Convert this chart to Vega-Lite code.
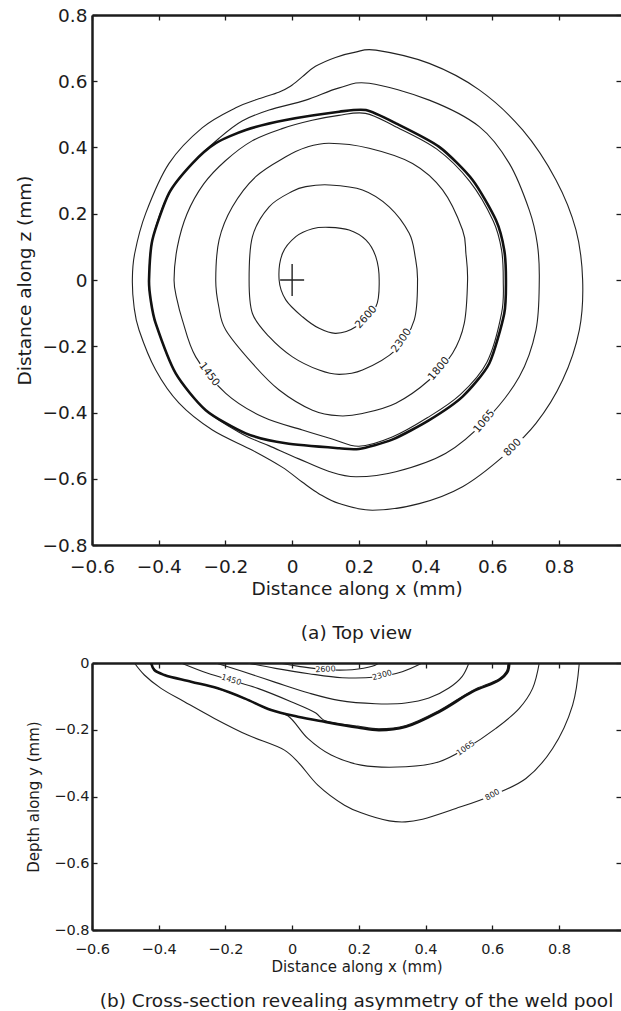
{
  "$schema": "https://vega.github.io/schema/vega-lite/v6.json",
  "padding": {"left": 15, "top": 6, "right": 0, "bottom": 0},
  "background": "white",
  "config": {
    "view": {"stroke": null},
    "font": "DejaVu Sans",
    "axis": {"grid": false, "domainColor": "#1c1c1c", "domainWidth": 2.5, "tickColor": "#1c1c1c", "tickWidth": 1.3, "tickSize": -5, "labelFont": "DejaVu Sans", "titleFont": "DejaVu Sans", "labelColor": "#1c1c1c", "titleColor": "#1c1c1c", "titleFontWeight": "normal", "labelFlush": false, "labelOverlap": false},
    "title": {"font": "DejaVu Sans", "fontWeight": "normal", "color": "#1c1c1c"}
  },
  "datasets": {
    "topIso": [
      {"iso":"800","i":0,"x":0.871,"z":0},{"iso":"800","i":1,"x":0.851,"z":0.151},{"iso":"800","i":2,"x":0.791,"z":0.302},{"iso":"800","i":3,"x":0.691,"z":0.453},{"iso":"800","i":4,"x":0.561,"z":0.574},{"iso":"800","i":5,"x":0.411,"z":0.654},{"iso":"800","i":6,"x":0.251,"z":0.694},{"iso":"800","i":7,"x":0.19,"z":0.688},{"iso":"800","i":8,"x":0.13,"z":0.672},{"iso":"800","i":9,"x":0.07,"z":0.645},{"iso":"800","i":10,"x":0.03,"z":0.613},{"iso":"800","i":11,"x":-0.005,"z":0.585},{"iso":"800","i":12,"x":-0.04,"z":0.567},{"iso":"800","i":13,"x":-0.1,"z":0.547},{"iso":"800","i":14,"x":-0.169,"z":0.52},{"iso":"800","i":15,"x":-0.269,"z":0.46},{"iso":"800","i":16,"x":-0.369,"z":0.352},{"iso":"800","i":17,"x":-0.439,"z":0.201},{"iso":"800","i":18,"x":-0.472,"z":0.08},{"iso":"800","i":19,"x":-0.479,"z":0},{"iso":"800","i":20,"x":-0.474,"z":-0.08},{"iso":"800","i":21,"x":-0.459,"z":-0.151},{"iso":"800","i":22,"x":-0.409,"z":-0.272},{"iso":"800","i":23,"x":-0.339,"z":-0.372},{"iso":"800","i":24,"x":-0.239,"z":-0.453},{"iso":"800","i":25,"x":-0.119,"z":-0.514},{"iso":"800","i":26,"x":-0.03,"z":-0.565},{"iso":"800","i":27,"x":0.03,"z":-0.61},{"iso":"800","i":28,"x":0.08,"z":-0.645},{"iso":"800","i":29,"x":0.141,"z":-0.675},{"iso":"800","i":30,"x":0.241,"z":-0.695},{"iso":"800","i":31,"x":0.381,"z":-0.675},{"iso":"800","i":32,"x":0.511,"z":-0.624},{"iso":"800","i":33,"x":0.631,"z":-0.534},{"iso":"800","i":34,"x":0.731,"z":-0.433},{"iso":"800","i":35,"x":0.811,"z":-0.302},{"iso":"800","i":36,"x":0.861,"z":-0.151},
      {"iso":"1065","i":0,"x":0.741,"z":0},{"iso":"1065","i":1,"x":0.735,"z":0.11},{"iso":"1065","i":2,"x":0.711,"z":0.211},{"iso":"1065","i":3,"x":0.651,"z":0.352},{"iso":"1065","i":4,"x":0.561,"z":0.463},{"iso":"1065","i":5,"x":0.411,"z":0.543},{"iso":"1065","i":6,"x":0.231,"z":0.594},{"iso":"1065","i":7,"x":0.141,"z":0.58},{"iso":"1065","i":8,"x":0.041,"z":0.543},{"iso":"1065","i":9,"x":-0.069,"z":0.513},{"iso":"1065","i":10,"x":-0.15,"z":0.48},{"iso":"1065","i":11,"x":-0.219,"z":0.428},{"iso":"1065","i":12,"x":-0.299,"z":0.352},{"iso":"1065","i":13,"x":-0.369,"z":0.262},{"iso":"1065","i":14,"x":-0.419,"z":0.121},{"iso":"1065","i":15,"x":-0.429,"z":0},{"iso":"1065","i":16,"x":-0.424,"z":-0.06},{"iso":"1065","i":17,"x":-0.409,"z":-0.131},{"iso":"1065","i":18,"x":-0.349,"z":-0.282},{"iso":"1065","i":19,"x":-0.259,"z":-0.393},{"iso":"1065","i":20,"x":-0.15,"z":-0.465},{"iso":"1065","i":21,"x":-0.07,"z":-0.5},{"iso":"1065","i":22,"x":0.02,"z":-0.54},{"iso":"1065","i":23,"x":0.111,"z":-0.578},{"iso":"1065","i":24,"x":0.191,"z":-0.594},{"iso":"1065","i":25,"x":0.311,"z":-0.579},{"iso":"1065","i":26,"x":0.461,"z":-0.523},{"iso":"1065","i":27,"x":0.581,"z":-0.423},{"iso":"1065","i":28,"x":0.681,"z":-0.292},{"iso":"1065","i":29,"x":0.731,"z":-0.151},
      {"iso":"1450","i":0,"x":0.633,"z":0},{"iso":"1450","i":1,"x":0.628,"z":0.09},{"iso":"1450","i":2,"x":0.603,"z":0.178},{"iso":"1450","i":3,"x":0.533,"z":0.297},{"iso":"1450","i":4,"x":0.434,"z":0.395},{"iso":"1450","i":5,"x":0.306,"z":0.465},{"iso":"1450","i":6,"x":0.22,"z":0.503},{"iso":"1450","i":7,"x":0.14,"z":0.497},{"iso":"1450","i":8,"x":0.06,"z":0.482},{"iso":"1450","i":9,"x":-0.03,"z":0.457},{"iso":"1450","i":10,"x":-0.12,"z":0.42},{"iso":"1450","i":11,"x":-0.2,"z":0.36},{"iso":"1450","i":12,"x":-0.265,"z":0.29},{"iso":"1450","i":13,"x":-0.315,"z":0.2},{"iso":"1450","i":14,"x":-0.344,"z":0.1},{"iso":"1450","i":15,"x":-0.354,"z":0},{"iso":"1450","i":16,"x":-0.345,"z":-0.06},{"iso":"1450","i":17,"x":-0.329,"z":-0.121},{"iso":"1450","i":18,"x":-0.289,"z":-0.232},{"iso":"1450","i":19,"x":-0.199,"z":-0.342},{"iso":"1450","i":20,"x":-0.089,"z":-0.413},{"iso":"1450","i":21,"x":0.031,"z":-0.453},{"iso":"1450","i":22,"x":0.12,"z":-0.48},{"iso":"1450","i":23,"x":0.2,"z":-0.502},{"iso":"1450","i":24,"x":0.3,"z":-0.474},{"iso":"1450","i":25,"x":0.405,"z":-0.416},{"iso":"1450","i":26,"x":0.504,"z":-0.346},{"iso":"1450","i":27,"x":0.584,"z":-0.248},{"iso":"1450","i":28,"x":0.628,"z":-0.1},
      {"iso":"1800","i":0,"x":0.526,"z":0},{"iso":"1800","i":1,"x":0.521,"z":0.08},{"iso":"1800","i":2,"x":0.511,"z":0.151},{"iso":"1800","i":3,"x":0.451,"z":0.272},{"iso":"1800","i":4,"x":0.361,"z":0.352},{"iso":"1800","i":5,"x":0.231,"z":0.398},{"iso":"1800","i":6,"x":0.111,"z":0.413},{"iso":"1800","i":7,"x":0.041,"z":0.4},{"iso":"1800","i":8,"x":-0.019,"z":0.372},{"iso":"1800","i":9,"x":-0.109,"z":0.312},{"iso":"1800","i":10,"x":-0.179,"z":0.221},{"iso":"1800","i":11,"x":-0.219,"z":0.121},{"iso":"1800","i":12,"x":-0.229,"z":0},{"iso":"1800","i":13,"x":-0.22,"z":-0.08},{"iso":"1800","i":14,"x":-0.199,"z":-0.151},{"iso":"1800","i":15,"x":-0.119,"z":-0.252},{"iso":"1800","i":16,"x":-0.039,"z":-0.332},{"iso":"1800","i":17,"x":0.061,"z":-0.393},{"iso":"1800","i":18,"x":0.141,"z":-0.41},{"iso":"1800","i":19,"x":0.211,"z":-0.403},{"iso":"1800","i":20,"x":0.311,"z":-0.372},{"iso":"1800","i":21,"x":0.411,"z":-0.302},{"iso":"1800","i":22,"x":0.481,"z":-0.221},{"iso":"1800","i":23,"x":0.516,"z":-0.131},
      {"iso":"2300","i":0,"x":0.376,"z":0},{"iso":"2300","i":1,"x":0.369,"z":0.07},{"iso":"2300","i":2,"x":0.351,"z":0.141},{"iso":"2300","i":3,"x":0.291,"z":0.221},{"iso":"2300","i":4,"x":0.211,"z":0.272},{"iso":"2300","i":5,"x":0.111,"z":0.287},{"iso":"2300","i":6,"x":0.041,"z":0.282},{"iso":"2300","i":7,"x":0.001,"z":0.268},{"iso":"2300","i":8,"x":-0.069,"z":0.221},{"iso":"2300","i":9,"x":-0.119,"z":0.131},{"iso":"2300","i":10,"x":-0.129,"z":0},{"iso":"2300","i":11,"x":-0.119,"z":-0.101},{"iso":"2300","i":12,"x":-0.069,"z":-0.171},{"iso":"2300","i":13,"x":0.001,"z":-0.232},{"iso":"2300","i":14,"x":0.081,"z":-0.272},{"iso":"2300","i":15,"x":0.141,"z":-0.285},{"iso":"2300","i":16,"x":0.211,"z":-0.272},{"iso":"2300","i":17,"x":0.311,"z":-0.211},{"iso":"2300","i":18,"x":0.366,"z":-0.121},
      {"iso":"2600","i":0,"x":0.261,"z":0},{"iso":"2600","i":1,"x":0.251,"z":0.07},{"iso":"2600","i":2,"x":0.221,"z":0.121},{"iso":"2600","i":3,"x":0.171,"z":0.151},{"iso":"2600","i":4,"x":0.111,"z":0.159},{"iso":"2600","i":5,"x":0.061,"z":0.155},{"iso":"2600","i":6,"x":0.011,"z":0.131},{"iso":"2600","i":7,"x":-0.029,"z":0.08},{"iso":"2600","i":8,"x":-0.039,"z":0},{"iso":"2600","i":9,"x":-0.019,"z":-0.06},{"iso":"2600","i":10,"x":0.031,"z":-0.111},{"iso":"2600","i":11,"x":0.081,"z":-0.146},{"iso":"2600","i":12,"x":0.131,"z":-0.161},{"iso":"2600","i":13,"x":0.191,"z":-0.141},{"iso":"2600","i":14,"x":0.251,"z":-0.081},
      {"iso":"pool boundary","i":0,"x":0.641,"z":0},{"iso":"pool boundary","i":1,"x":0.636,"z":0.09},{"iso":"pool boundary","i":2,"x":0.611,"z":0.181},{"iso":"pool boundary","i":3,"x":0.541,"z":0.302},{"iso":"pool boundary","i":4,"x":0.441,"z":0.402},{"iso":"pool boundary","i":5,"x":0.311,"z":0.473},{"iso":"pool boundary","i":6,"x":0.221,"z":0.513},{"iso":"pool boundary","i":7,"x":0.141,"z":0.508},{"iso":"pool boundary","i":8,"x":-0.019,"z":0.483},{"iso":"pool boundary","i":9,"x":-0.139,"z":0.453},{"iso":"pool boundary","i":10,"x":-0.229,"z":0.413},{"iso":"pool boundary","i":11,"x":-0.299,"z":0.352},{"iso":"pool boundary","i":12,"x":-0.369,"z":0.262},{"iso":"pool boundary","i":13,"x":-0.419,"z":0.121},{"iso":"pool boundary","i":14,"x":-0.429,"z":0},{"iso":"pool boundary","i":15,"x":-0.424,"z":-0.06},{"iso":"pool boundary","i":16,"x":-0.409,"z":-0.131},{"iso":"pool boundary","i":17,"x":-0.349,"z":-0.282},{"iso":"pool boundary","i":18,"x":-0.259,"z":-0.393},{"iso":"pool boundary","i":19,"x":-0.139,"z":-0.463},{"iso":"pool boundary","i":20,"x":-0.019,"z":-0.493},{"iso":"pool boundary","i":21,"x":0.141,"z":-0.508},{"iso":"pool boundary","i":22,"x":0.2,"z":-0.51},{"iso":"pool boundary","i":23,"x":0.3,"z":-0.482},{"iso":"pool boundary","i":24,"x":0.411,"z":-0.423},{"iso":"pool boundary","i":25,"x":0.511,"z":-0.352},{"iso":"pool boundary","i":26,"x":0.591,"z":-0.252},{"iso":"pool boundary","i":27,"x":0.636,"z":-0.101}
    ],
    "topLabels": [
      {"label":"2600","x":0.222,"z":-0.112,"dir":48},
      {"label":"2300","x":0.328,"z":-0.183,"dir":55},
      {"label":"1800","x":0.44,"z":-0.268,"dir":50},
      {"label":"1065","x":0.576,"z":-0.427,"dir":50},
      {"label":"800","x":0.661,"z":-0.506,"dir":45},
      {"label":"1450","x":-0.249,"z":-0.285,"dir":-53}
    ],
    "beam": [{"x":0,"z":0}],
    "sideIso": [
      {"iso":"800","i":0,"x":-0.473,"y":0},{"iso":"800","i":1,"x":-0.443,"y":-0.036},{"iso":"800","i":2,"x":-0.393,"y":-0.076},{"iso":"800","i":3,"x":-0.323,"y":-0.116},{"iso":"800","i":4,"x":-0.233,"y":-0.166},{"iso":"800","i":5,"x":-0.133,"y":-0.216},{"iso":"800","i":6,"x":-0.023,"y":-0.261},{"iso":"800","i":7,"x":0.017,"y":-0.296},{"iso":"800","i":8,"x":0.077,"y":-0.366},{"iso":"800","i":9,"x":0.157,"y":-0.426},{"iso":"800","i":10,"x":0.207,"y":-0.449},{"iso":"800","i":11,"x":0.291,"y":-0.473},{"iso":"800","i":12,"x":0.34,"y":-0.476},{"iso":"800","i":13,"x":0.391,"y":-0.468},{"iso":"800","i":14,"x":0.491,"y":-0.436},{"iso":"800","i":15,"x":0.601,"y":-0.396},{"iso":"800","i":16,"x":0.701,"y":-0.346},{"iso":"800","i":17,"x":0.781,"y":-0.256},{"iso":"800","i":18,"x":0.841,"y":-0.126},{"iso":"800","i":19,"x":0.861,"y":0},
      {"iso":"1065","i":0,"x":-0.423,"y":0},{"iso":"1065","i":1,"x":-0.413,"y":-0.021},{"iso":"1065","i":2,"x":-0.383,"y":-0.036},{"iso":"1065","i":3,"x":-0.303,"y":-0.056},{"iso":"1065","i":4,"x":-0.223,"y":-0.076},{"iso":"1065","i":5,"x":-0.143,"y":-0.106},{"iso":"1065","i":6,"x":-0.063,"y":-0.141},{"iso":"1065","i":7,"x":-0.013,"y":-0.158},{"iso":"1065","i":8,"x":0.047,"y":-0.226},{"iso":"1065","i":9,"x":0.117,"y":-0.276},{"iso":"1065","i":10,"x":0.207,"y":-0.306},{"iso":"1065","i":11,"x":0.341,"y":-0.311},{"iso":"1065","i":12,"x":0.441,"y":-0.296},{"iso":"1065","i":13,"x":0.521,"y":-0.256},{"iso":"1065","i":14,"x":0.611,"y":-0.196},{"iso":"1065","i":15,"x":0.681,"y":-0.136},{"iso":"1065","i":16,"x":0.721,"y":-0.076},{"iso":"1065","i":17,"x":0.741,"y":0},
      {"iso":"1450","i":0,"x":-0.333,"y":0},{"iso":"1450","i":1,"x":-0.253,"y":-0.031},{"iso":"1450","i":2,"x":-0.183,"y":-0.052},{"iso":"1450","i":3,"x":-0.103,"y":-0.076},{"iso":"1450","i":4,"x":-0.003,"y":-0.116},{"iso":"1450","i":5,"x":0.071,"y":-0.15},{"iso":"1450","i":6,"x":0.097,"y":-0.172},{"iso":"1450","i":7,"x":0.197,"y":-0.189},{"iso":"1450","i":8,"x":0.26,"y":-0.197},{"iso":"1450","i":9,"x":0.341,"y":-0.187},{"iso":"1450","i":10,"x":0.441,"y":-0.142},{"iso":"1450","i":11,"x":0.541,"y":-0.082},{"iso":"1450","i":12,"x":0.621,"y":-0.047},{"iso":"1450","i":13,"x":0.643,"y":-0.024},{"iso":"1450","i":14,"x":0.647,"y":0},
      {"iso":"1800","i":0,"x":-0.229,"y":0},{"iso":"1800","i":1,"x":-0.15,"y":-0.025},{"iso":"1800","i":2,"x":-0.05,"y":-0.058},{"iso":"1800","i":3,"x":0.05,"y":-0.09},{"iso":"1800","i":4,"x":0.14,"y":-0.112},{"iso":"1800","i":5,"x":0.25,"y":-0.122},{"iso":"1800","i":6,"x":0.34,"y":-0.12},{"iso":"1800","i":7,"x":0.41,"y":-0.105},{"iso":"1800","i":8,"x":0.47,"y":-0.075},{"iso":"1800","i":9,"x":0.51,"y":-0.04},{"iso":"1800","i":10,"x":0.53,"y":0},
      {"iso":"2300","i":0,"x":-0.134,"y":0},{"iso":"2300","i":1,"x":-0.05,"y":-0.016},{"iso":"2300","i":2,"x":0.05,"y":-0.032},{"iso":"2300","i":3,"x":0.15,"y":-0.044},{"iso":"2300","i":4,"x":0.25,"y":-0.042},{"iso":"2300","i":5,"x":0.33,"y":-0.026},{"iso":"2300","i":6,"x":0.39,"y":0},
      {"iso":"2600","i":0,"x":-0.039,"y":0},{"iso":"2600","i":1,"x":0.02,"y":-0.01},{"iso":"2600","i":2,"x":0.1,"y":-0.02},{"iso":"2600","i":3,"x":0.18,"y":-0.02},{"iso":"2600","i":4,"x":0.24,"y":-0.01},{"iso":"2600","i":5,"x":0.261,"y":0},
      {"iso":"pool boundary","i":0,"x":-0.423,"y":0},{"iso":"pool boundary","i":1,"x":-0.413,"y":-0.021},{"iso":"pool boundary","i":2,"x":-0.383,"y":-0.036},{"iso":"pool boundary","i":3,"x":-0.303,"y":-0.056},{"iso":"pool boundary","i":4,"x":-0.223,"y":-0.076},{"iso":"pool boundary","i":5,"x":-0.143,"y":-0.106},{"iso":"pool boundary","i":6,"x":-0.063,"y":-0.141},{"iso":"pool boundary","i":7,"x":0.017,"y":-0.161},{"iso":"pool boundary","i":8,"x":0.097,"y":-0.176},{"iso":"pool boundary","i":9,"x":0.197,"y":-0.193},{"iso":"pool boundary","i":10,"x":0.26,"y":-0.201},{"iso":"pool boundary","i":11,"x":0.341,"y":-0.191},{"iso":"pool boundary","i":12,"x":0.441,"y":-0.146},{"iso":"pool boundary","i":13,"x":0.541,"y":-0.086},{"iso":"pool boundary","i":14,"x":0.621,"y":-0.051},{"iso":"pool boundary","i":15,"x":0.646,"y":-0.026},{"iso":"pool boundary","i":16,"x":0.651,"y":0}
    ],
    "sideLabels": [
      {"label":"2600","x":0.1,"y":-0.02,"dir":3},
      {"label":"2300","x":0.27,"y":-0.038,"dir":15},
      {"label":"1450","x":-0.183,"y":-0.052,"dir":-17},
      {"label":"1065","x":0.521,"y":-0.256,"dir":35},
      {"label":"800","x":0.601,"y":-0.396,"dir":30}
    ]
  },
  "vconcat": [
    {
      "width": 529,
      "height": 530,
      "title": {"text": "(a) Top view", "orient": "bottom", "offset": 26, "fontSize": 18.5, "anchor": "middle"},
      "resolve": {"axis": {"x": "independent", "y": "independent"}},
      "layer": [
        {
          "data": {"name": "topIso"},
          "transform": [{"filter": "datum.iso !== 'pool boundary'"}],
          "mark": {"type": "line", "interpolate": "cardinal-closed", "color": "#222", "strokeWidth": 1.1, "clip": true},
          "encoding": {
            "x": {"field": "x", "type": "quantitative", "scale": {"domain": [-0.6, 0.986], "nice": false, "zero": false},
                  "axis": {"orient": "bottom", "title": "Distance along x (mm)", "values": [-0.6,-0.4,-0.2,0,0.2,0.4,0.6,0.8], "format": ".1~f", "labelFontSize": 18.5, "titleFontSize": 18.5, "labelPadding": 17, "titlePadding": 4}},
            "y": {"field": "z", "type": "quantitative", "scale": {"domain": [-0.8, 0.8], "nice": false, "zero": false},
                  "axis": {"orient": "left", "title": "Distance along z (mm)", "values": [-0.8,-0.6,-0.4,-0.2,0,0.2,0.4,0.6,0.8], "format": ".1~f", "labelFontSize": 18.5, "titleFontSize": 18.5, "labelPadding": 10, "titlePadding": 8}},
            "detail": {"field": "iso"},
            "order": {"field": "i", "type": "quantitative"}
          }
        },
        {
          "data": {"name": "topIso"},
          "transform": [{"filter": "datum.iso === 'pool boundary'"}],
          "mark": {"type": "line", "interpolate": "cardinal-closed", "tension": 0.3, "color": "#111", "strokeWidth": 2.6, "clip": true},
          "encoding": {
            "x": {"field": "x", "type": "quantitative", "scale": {"domain": [-0.6, 0.986], "nice": false, "zero": false},
                  "axis": {"orient": "top", "title": null, "labels": false, "values": [-0.6,-0.4,-0.2,0,0.2,0.4,0.6,0.8]}},
            "y": {"field": "z", "type": "quantitative", "scale": {"domain": [-0.8, 0.8], "nice": false, "zero": false},
                  "axis": {"orient": "right", "title": null, "labels": false, "domain": false, "values": [-0.8,-0.6,-0.4,-0.2,0,0.2,0.4,0.6,0.8]}},
            "detail": {"field": "iso"},
            "order": {"field": "i", "type": "quantitative"}
          }
        },
        {
          "data": {"name": "topLabels"},
          "mark": {"type": "point", "shape": "M-1,-0.38H1V0.38H-1Z", "filled": true, "color": "white", "opacity": 1, "size": 760, "strokeWidth": 0},
          "encoding": {
            "x": {"field": "x", "type": "quantitative", "scale": {"domain": [-0.6, 0.986], "nice": false, "zero": false}, "axis": null},
            "y": {"field": "z", "type": "quantitative", "scale": {"domain": [-0.8, 0.8], "nice": false, "zero": false}, "axis": null},
            "angle": {"field": "dir", "type": "quantitative", "scale": {"domain": [-90, 90], "range": [90, -90]}}
          }
        },
        {
          "data": {"name": "topLabels"},
          "mark": {"type": "text", "font": "DejaVu Sans", "fontSize": 10.5, "color": "#222", "align": "center", "baseline": "middle"},
          "encoding": {
            "x": {"field": "x", "type": "quantitative", "scale": {"domain": [-0.6, 0.986], "nice": false, "zero": false}, "axis": null},
            "y": {"field": "z", "type": "quantitative", "scale": {"domain": [-0.8, 0.8], "nice": false, "zero": false}, "axis": null},
            "angle": {"field": "dir", "type": "quantitative", "scale": {"domain": [-90, 90], "range": [90, -90]}},
            "text": {"field": "label"}
          }
        },
        {
          "data": {"name": "beam"},
          "mark": {"type": "point", "shape": "M-0.75,0H0.75M0,-1V1", "filled": false, "color": "#222", "strokeWidth": 1.4, "size": 1024, "opacity": 1},
          "encoding": {
            "x": {"field": "x", "type": "quantitative", "scale": {"domain": [-0.6, 0.986], "nice": false, "zero": false}, "axis": null},
            "y": {"field": "z", "type": "quantitative", "scale": {"domain": [-0.8, 0.8], "nice": false, "zero": false}, "axis": null}
          }
        }
      ]
    },
    {
      "width": 529,
      "height": 267,
      "title": {"text": "(b) Cross-section revealing asymmetry of the weld pool", "orient": "bottom", "offset": 17, "fontSize": 18.5, "anchor": "middle"},
      "resolve": {"axis": {"x": "independent", "y": "independent"}},
      "layer": [
        {
          "data": {"name": "sideIso"},
          "transform": [{"filter": "datum.iso !== 'pool boundary'"}],
          "mark": {"type": "line", "interpolate": "catmull-rom", "color": "#222", "strokeWidth": 1.1, "clip": true},
          "encoding": {
            "x": {"field": "x", "type": "quantitative", "scale": {"domain": [-0.6, 0.986], "nice": false, "zero": false},
                  "axis": {"orient": "bottom", "title": "Distance along x (mm)", "values": [-0.6,-0.4,-0.2,0,0.2,0.4,0.6,0.8], "format": ".1~f", "labelFontSize": 14.5, "titleFontSize": 15, "labelPadding": 17, "titlePadding": 4}},
            "y": {"field": "y", "type": "quantitative", "scale": {"domain": [-0.8, 0], "nice": false, "zero": false},
                  "axis": {"orient": "left", "title": "Depth along y (mm)", "values": [-0.8,-0.6,-0.4,-0.2,0], "format": ".1~f", "labelFontSize": 14.5, "titleFontSize": 15, "labelPadding": 8, "titlePadding": 12}},
            "detail": {"field": "iso"},
            "order": {"field": "i", "type": "quantitative"}
          }
        },
        {
          "data": {"name": "sideIso"},
          "transform": [{"filter": "datum.iso === 'pool boundary'"}],
          "mark": {"type": "line", "interpolate": "catmull-rom", "color": "#111", "strokeWidth": 2.6, "clip": true},
          "encoding": {
            "x": {"field": "x", "type": "quantitative", "scale": {"domain": [-0.6, 0.986], "nice": false, "zero": false},
                  "axis": {"orient": "top", "title": null, "labels": false, "values": [-0.6,-0.4,-0.2,0,0.2,0.4,0.6,0.8]}},
            "y": {"field": "y", "type": "quantitative", "scale": {"domain": [-0.8, 0], "nice": false, "zero": false},
                  "axis": {"orient": "right", "title": null, "labels": false, "domain": false, "values": [-0.8,-0.6,-0.4,-0.2,0]}},
            "detail": {"field": "iso"},
            "order": {"field": "i", "type": "quantitative"}
          }
        },
        {
          "data": {"name": "sideLabels"},
          "mark": {"type": "point", "shape": "M-1,-0.32H1V0.32H-1Z", "filled": true, "color": "white", "opacity": 1, "size": 400, "strokeWidth": 0},
          "encoding": {
            "x": {"field": "x", "type": "quantitative", "scale": {"domain": [-0.6, 0.986], "nice": false, "zero": false}, "axis": null},
            "y": {"field": "y", "type": "quantitative", "scale": {"domain": [-0.8, 0], "nice": false, "zero": false}, "axis": null},
            "angle": {"field": "dir", "type": "quantitative", "scale": {"domain": [-90, 90], "range": [90, -90]}}
          }
        },
        {
          "data": {"name": "sideLabels"},
          "mark": {"type": "text", "font": "DejaVu Sans", "fontSize": 8, "color": "#222", "align": "center", "baseline": "middle"},
          "encoding": {
            "x": {"field": "x", "type": "quantitative", "scale": {"domain": [-0.6, 0.986], "nice": false, "zero": false}, "axis": null},
            "y": {"field": "y", "type": "quantitative", "scale": {"domain": [-0.8, 0], "nice": false, "zero": false}, "axis": null},
            "angle": {"field": "dir", "type": "quantitative", "scale": {"domain": [-90, 90], "range": [90, -90]}},
            "text": {"field": "label"}
          }
        }
      ]
    }
  ],
  "spacing": 118,
  "bounds": "flush"
}
